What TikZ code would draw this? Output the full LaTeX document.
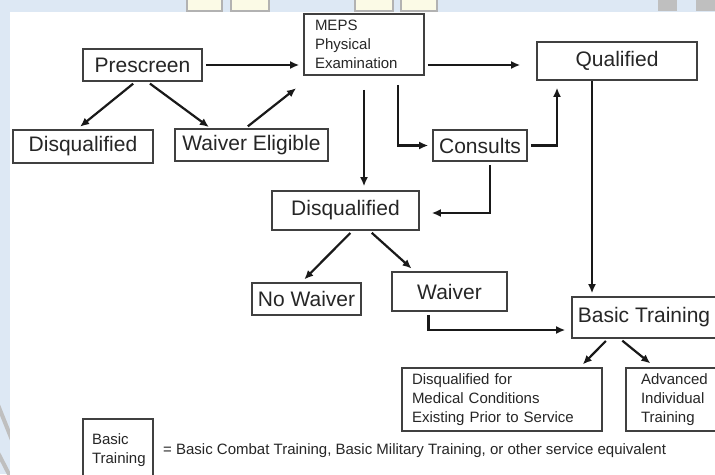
\documentclass[tikz,border=0pt]{standalone}
\usepackage{fontspec}
\setmainfont{Liberation Sans}
\usetikzlibrary{arrows.meta}
\definecolor{slideblue}{HTML}{DDE8F4}
\definecolor{thumbyellow}{HTML}{FBFAE6}
\begin{document}
\begin{tikzpicture}[x=1pt,y=-1pt]
                % Define styles for different elements
                \tikzstyle{box} = [rectangle, draw=black!75, line width=1.6pt, text=black!85, inner sep=0pt, font=\fontsize{21}{24}\selectfont]
                \tikzstyle{smallbox} = [box, font=\fontsize{15}{19}\selectfont, align=left]
                \tikzstyle{flow} = [draw=black!90, line width=2.2pt, -{Latex[length=9pt,width=8pt]}, shorten >=4pt, shorten <=3pt]
                \tikzstyle{thumb} = [draw=black!30, line width=1.5pt, fill=thumbyellow]

                % Slide background
                \clip (0,0) rectangle (715,474);
                \fill[slideblue] (0,0) rectangle (715,474);
                \draw[thumb] (187,-5) rectangle (222,11);
                \draw[thumb] (231,-5) rectangle (269,11);
                \draw[thumb] (355,-5) rectangle (393,11);
                \draw[thumb] (401,-5) rectangle (437,11);
                \fill[black!25] (658,-5) rectangle (677,11);
                \fill[black!25] (696,-5) rectangle (716,11);
                \draw[black!25, line width=4pt] (-6,395) -- (12,440);
                \draw[black!25, line width=4pt] (-6,445) -- (12,480);
                \fill[white] (10,12) rectangle (716,475);

                % Top row
                \node[box, minimum width=119pt, minimum height=32pt] (prescreen) at (142.5,65) {Prescreen};
                \node[smallbox, minimum height=61pt, text width=98pt, inner xsep=11pt] (meps) at (364,44.5) {MEPS\\Physical\\Examination};
                \node[box, minimum width=160pt, minimum height=38pt] (qual) at (617,61) {Qualified};

                % Second row
                \node[box, minimum width=140pt, minimum height=33pt] (disqL) at (83,146.5) {Disqualified};
                \node[box, minimum width=153pt, minimum height=32pt] (waivEl) at (251.5,145) {Waiver Eligible};
                \node[box, minimum width=94pt, minimum height=31pt] (consults) at (480,145.5) {Consults};

                % Middle
                \node[box, minimum width=147pt, minimum height=39pt] (disqM) at (345.5,210.5) {Disqualified};
                \node[box, minimum width=109pt, minimum height=32pt] (noWaiv) at (306.5,299) {No Waiver};
                \node[box, minimum width=115pt, minimum height=39pt] (waiver) at (449.5,291.5) {Waiver};
                \node[box, minimum width=144pt, minimum height=41pt] (basic) at (644,317.5) {Basic Training};

                % Bottom row
                \node[smallbox, minimum height=63pt, text width=180pt, inner xsep=10pt] (disqMed) at (502,399.5) {Disqualified for\\Medical Conditions\\Existing Prior to Service};
                \node[smallbox, minimum height=63pt, text width=70pt, inner xsep=15pt] (ait) at (676,399.5) {Advanced\\Individual\\Training};

                % Legend
                \node[smallbox, minimum height=62pt, text width=52pt, inner xsep=9pt] (legbox) at (118,450) {Basic\\Training};
                \node[font=\fontsize{15}{19}\selectfont, text=black!85, anchor=west, inner sep=0pt] (legtext) at (163,451) {= Basic Combat Training, Basic Military Training, or other service equivalent};

                % Connect the nodes
                \draw[flow] (prescreen.east) -- (prescreen.east -| meps.west);
                \draw[flow] (meps.east |- prescreen.east) -- (qual.west |- prescreen.east) [shorten >=16pt];
                \draw[flow] ([xshift=-7pt]prescreen.south) -- ([xshift=-6pt]disqL.north);
                \draw[flow, shorten >=2pt] ([xshift=5pt]prescreen.south) -- ([xshift=-41pt]waivEl.north);
                \draw[flow] ([xshift=-6pt]waivEl.north) -- ([xshift=-4pt,yshift=-10pt]meps.south west);
                \draw[flow, shorten <=14pt] (meps.south) -- (meps.south |- disqM.north);
                \draw[flow, shorten <=9pt] ([xshift=34pt]meps.south) |- (consults.west);
                \draw[flow, shorten >=7pt] (consults.east) -| ([xshift=-60pt]qual.south);
                \draw[flow, shorten >=12pt] ([xshift=10pt]consults.south) |- ([yshift=-2.5pt]disqM.east);
                \draw[flow, shorten <=0pt, shorten >=3pt] ([xshift=-25pt]qual.south) -- ([xshift=-52pt]basic.north);
                \draw[flow] ([xshift=7pt]disqM.south) -- ([xshift=-5pt]noWaiv.north);
                \draw[flow] ([xshift=24pt]disqM.south) -- ([xshift=-35pt]waiver.north);
                \draw[flow, shorten >=6pt] ([xshift=-21pt]waiver.south) |- ([yshift=-12.5pt]basic.west);
                \draw[flow] ([xshift=-36pt]basic.south) -- ([xshift=78pt]disqMed.north);
                \draw[flow, shorten >=6pt] ([xshift=-24pt]basic.south) -- ([xshift=-21pt]ait.north);
\end{tikzpicture}
\end{document}
